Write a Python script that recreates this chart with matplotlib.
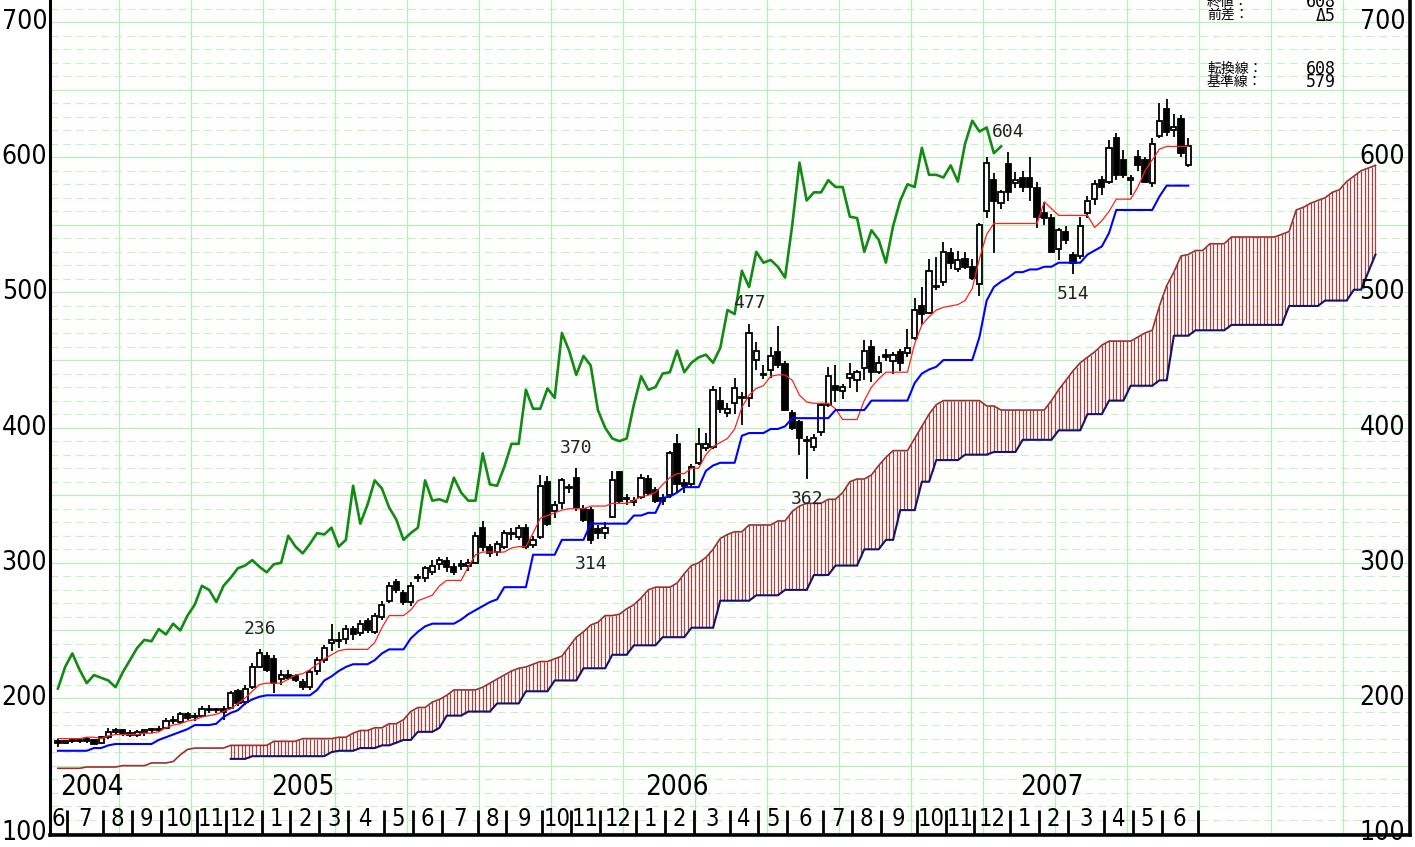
import numpy as np
import pandas as pd
import matplotlib
matplotlib.use("Agg")
import matplotlib.pyplot as plt
from matplotlib import font_manager
from matplotlib.transforms import blended_transform_factory

# 週足 2004-06-25 .. 2007-06-29
first_week = "2004-06-25"

opens = [168, 167, 168, 168, 170, 169, 167, 171, 175, 176,
         174, 173, 175, 176, 177, 178, 183, 182, 188, 186,
         187, 192, 191, 192, 193, 205, 197, 208, 223, 231,
         229, 214, 217, 216, 212, 208, 220, 228, 241, 243,
         244, 251, 248, 257, 249, 260, 272, 286, 278, 271,
         289, 289, 293, 299, 301, 297, 298, 298, 300, 326,
         312, 308, 312, 322, 319, 326, 313, 319, 360, 338,
         344, 356, 363, 340, 339, 325, 322, 334, 367, 348,
         346, 349, 362, 354, 348, 350, 388, 359, 358, 374,
         385, 386, 420, 411, 418, 423, 422, 450, 440, 443,
         456, 447, 411, 404, 391, 386, 397, 417, 431, 427,
         437, 435, 444, 460, 441, 454, 449, 456, 455, 466,
         490, 485, 505, 508, 529, 517, 525, 519, 506, 560,
         583, 566, 595, 581, 585, 585, 577, 559, 555, 532,
         545, 528, 527, 559, 569, 583, 582, 614, 598, 583,
         600, 598, 581, 616, 636, 620, 628, 594]
highs = [170, 169, 170, 170, 171, 170, 172, 178, 178, 177,
         176, 176, 177, 178, 179, 185, 187, 190, 190, 189,
         194, 195, 193, 194, 205, 207, 210, 226, 236, 234,
         232, 221, 221, 218, 214, 221, 230, 239, 255, 249,
         254, 253, 258, 259, 263, 272, 286, 288, 280, 286,
         292, 298, 302, 304, 304, 300, 302, 303, 323, 331,
         314, 316, 324, 326, 328, 329, 320, 365, 364, 346,
         363, 358, 370, 343, 341, 328, 330, 368, 368, 351,
         349, 366, 365, 356, 351, 383, 395, 362, 373, 400,
         396, 431, 430, 418, 437, 426, 477, 463, 446, 460,
         475, 449, 413, 406, 394, 395, 418, 445, 446, 432,
         448, 443, 465, 465, 453, 458, 456, 458, 473, 496,
         504, 525, 526, 537, 533, 531, 530, 525, 551, 600,
         588, 576, 604, 589, 590, 600, 582, 567, 558, 548,
         549, 530, 556, 571, 583, 586, 613, 618, 605, 587,
         605, 600, 614, 640, 643, 632, 631, 614]
lows = [164, 166, 167, 167, 167, 166, 166, 170, 173, 172,
        171, 171, 172, 174, 175, 177, 181, 181, 184, 183,
        186, 189, 189, 184, 192, 194, 195, 207, 222, 219,
        204, 210, 213, 212, 206, 206, 217, 226, 235, 237,
        240, 243, 246, 248, 247, 258, 270, 278, 269, 268,
        286, 286, 291, 295, 293, 291, 295, 294, 299, 309,
        304, 305, 310, 317, 317, 310, 311, 318, 327, 333,
        340, 352, 338, 330, 314, 318, 318, 333, 344, 343,
        342, 347, 350, 344, 343, 348, 352, 352, 355, 372,
        383, 384, 411, 408, 410, 402, 415, 443, 436, 437,
        444, 412, 398, 380, 362, 383, 394, 415, 419, 421,
        429, 426, 435, 434, 440, 449, 440, 442, 452, 465,
        476, 484, 502, 505, 517, 515, 517, 509, 497, 555,
        529, 562, 568, 577, 574, 568, 548, 550, 529, 524,
        536, 514, 525, 555, 565, 572, 580, 583, 585, 572,
        590, 581, 578, 614, 616, 615, 600, 593]
closes = [167, 168, 168, 169, 168, 166, 171, 175, 176, 174,
          173, 175, 176, 177, 176, 183, 184, 188, 185, 187,
          192, 191, 192, 190, 204, 196, 207, 223, 233, 221,
          211, 217, 215, 213, 208, 219, 228, 237, 243, 242,
          251, 247, 255, 250, 261, 269, 283, 280, 271, 283,
          289, 296, 298, 302, 297, 293, 299, 300, 320, 312,
          307, 314, 322, 321, 326, 312, 317, 357, 329, 343,
          361, 355, 341, 332, 317, 322, 326, 361, 346, 347,
          345, 363, 352, 346, 346, 381, 358, 357, 371, 388,
          388, 428, 414, 414, 429, 422, 470, 457, 439, 453,
          446, 413, 400, 392, 390, 392, 417, 438, 428, 430,
          440, 441, 457, 441, 448, 452, 454, 448, 459, 487,
          484, 516, 504, 530, 522, 524, 519, 511, 550, 596,
          568, 574, 574, 583, 578, 578, 556, 555, 530, 546,
          539, 522, 549, 568, 580, 578, 607, 587, 587, 585,
          594, 582, 610, 627, 619, 622, 603, 608]

# 転換線 / 基準線
tenkan = [170, 170, 170, 170, 171, 171, 170, 172, 173, 173,
          173, 173, 174, 174, 175, 178, 180, 181, 183, 184,
          186, 187, 188, 190, 192, 196, 200, 205, 210, 211,
          211, 211, 214, 217, 218, 221, 225, 229, 232, 235,
          236, 236, 236, 236, 241, 252, 261, 261, 261, 265,
          272, 274, 276, 283, 287, 287, 287, 297, 306, 308,
          308, 308, 308, 311, 312, 312, 322, 333, 335, 337,
          339, 340, 340, 340, 342, 342, 342, 344, 344, 344,
          346, 349, 350, 352, 358, 363, 366, 366, 370, 370,
          380, 386, 389, 392, 399, 415, 424, 429, 431, 438,
          439, 439, 435, 424, 419, 418, 418, 418, 414, 406,
          406, 406, 420, 430, 436, 441, 441, 441, 441, 462,
          476, 482, 487, 489, 490, 491, 494, 503, 525, 543,
          551, 551, 551, 551, 551, 551, 551, 567, 562, 557,
          557, 557, 557, 557, 548, 553, 560, 569, 569, 569,
          578, 590, 598, 606, 608, 608, 608, 608]
kijun = [161, 161, 161, 161, 161, 163, 163, 165, 166, 166,
         166, 166, 166, 166, 169, 171, 173, 175, 177, 180,
         180, 180, 181, 186, 189, 191, 196, 199, 201, 202,
         202, 202, 202, 202, 202, 202, 206, 213, 216, 220,
         223, 225, 225, 225, 228, 233, 236, 236, 236, 244,
         249, 253, 255, 255, 255, 255, 258, 262, 265, 268,
         271, 273, 282, 282, 282, 282, 306, 306, 306, 306,
         317, 317, 317, 317, 329, 329, 329, 329, 329, 329,
         335, 335, 337, 337, 348, 349, 352, 356, 356, 356,
         368, 372, 374, 374, 374, 394, 396, 396, 396, 399,
         399, 401, 407, 407, 407, 407, 407, 407, 413, 413,
         413, 413, 413, 420, 420, 420, 420, 420, 420, 433,
         440, 443, 445, 450, 450, 450, 450, 450, 467, 494,
         504, 508, 511, 515, 515, 517, 517, 519, 519, 522,
         522, 522, 522, 528, 531, 534, 544, 561, 561, 561,
         561, 561, 561, 571, 579, 579, 579, 579]

# 先行スパン (already shifted forward, week 0 .. 183)
span_a = [148, 148, 148, 148, 149, 149, 149, 149, 149, 150,
          150, 150, 150, 152, 152, 152, 153, 158, 162, 163,
          163, 163, 163, 163, 165, 165, 165, 165, 165, 165,
          168, 168, 168, 168, 170, 170, 170, 170, 170, 171,
          171, 174, 176, 176, 178, 178, 181, 181, 184, 190,
          193, 193, 197, 199, 202, 206, 206, 206, 206, 208,
          211, 214, 217, 220, 222, 223, 225, 227, 227, 229,
          231, 238, 245, 249, 254, 256, 261, 261, 262, 266,
          269, 274, 280, 282, 282, 282, 285, 292, 298, 300,
          304, 310, 318, 321, 323, 323, 328, 328, 328, 328,
          331, 331, 338, 342, 344, 344, 344, 347, 347, 352,
          360, 362, 362, 365, 372, 378, 383, 383, 383, 392,
          401, 410, 417, 420, 420, 420, 420, 420, 420, 416,
          416, 413, 413, 413, 413, 413, 413, 413, 420, 428,
          435, 442, 448, 452, 456, 461, 464, 464, 464, 464,
          467, 470, 472, 490, 505, 515, 527, 528, 531, 531,
          536, 536, 536, 541, 541, 541, 541, 541, 541, 541,
          543, 545, 561, 563, 566, 568, 570, 574, 576, 582,
          586, 590, 592, 594]
span_b_start = 24
span_b = [155, 155, 155, 157, 157, 157, 157, 157, 157, 157,
          157, 157, 157, 157, 160, 161, 161, 161, 163, 163,
          163, 165, 165, 167, 169, 169, 175, 175, 175, 178,
          187, 187, 187, 190, 190, 190, 190, 196, 196, 196,
          196, 205, 205, 205, 205, 213, 213, 213, 213, 222,
          222, 222, 222, 232, 232, 232, 239, 239, 239, 239,
          245, 245, 245, 245, 252, 252, 252, 252, 272, 272,
          272, 272, 272, 276, 276, 276, 276, 280, 280, 280,
          280, 291, 291, 291, 298, 298, 298, 298, 310, 310,
          310, 317, 317, 339, 339, 339, 360, 360, 376, 376,
          376, 376, 380, 380, 380, 380, 382, 382, 382, 382,
          391, 391, 391, 391, 391, 398, 398, 398, 398, 410,
          410, 410, 420, 420, 420, 431, 431, 431, 431, 435,
          435, 468, 468, 468, 472, 472, 472, 472, 472, 476,
          476, 476, 476, 476, 476, 476, 476, 490, 490, 490,
          490, 490, 494, 494, 494, 494, 502, 502, 515, 528]

# 高値・安値の注記
peak_idx = [28, 72, 74, 96, 104, 132, 141]
peak_is_high = [True, True, False, True, False, True, False]

shift = 26
n = len(closes)
x = np.arange(n)
o, h, l, c = map(np.array, (opens, highs, lows, closes))

# 細めの数字フォント
fl = font_manager.fontManager.ttflist
if any(f.name == "DejaVu Sans" and "condensed" in str(f.stretch) for f in fl):
    NUM = dict(family="DejaVu Sans", fontstretch="condensed")
    tick_fs, month_fs, year_fs = 19, 17, 20
else:
    NUM = dict(family="Liberation Sans")
    tick_fs, month_fs, year_fs = 18, 16, 19
JP = ["Noto Sans CJK JP", "DejaVu Sans"]

W, H = 1415, 847
fig = plt.figure(figsize=(W / 100, H / 100), dpi=100)
ax = fig.add_axes([50 / W, 12 / H, 1360 / W, 835 / H])
ax.set_xlim(-1.1, 187.8)
ax.set_ylim(98.7, 716.3)
ax.set_xticks([])
ax.set_yticks([])
ax.spines["top"].set_visible(False)
ax.spines["left"].set_linewidth(2.2)
ax.spines["right"].set_linewidth(2.6)
ax.spines["bottom"].set_linewidth(2.6)

# grid
for v in range(100, 717, 10):
    if v % 50 == 0:
        ax.axhline(v, color="#b4f0b4", lw=0.9, zorder=0)
    else:
        ax.axhline(v, color="#c2f4c2", lw=0.8, ls=(0, (7, 4.5)), zorder=0)
for g in np.arange(8.5, 188, 10):
    ax.axvline(g, color="#b4f0b4", lw=0.9, zorder=0)

# 雲
xa = np.arange(len(span_a))
xb = np.arange(span_b_start, span_b_start + len(span_b))
hp = np.arange(xb[0], xb[-1] + 0.01, 0.5)
ax.vlines(hp, np.interp(hp, xb, span_b), np.interp(hp, xa, span_a),
          color="#a84040", lw=0.9, zorder=1)
ax.plot(xa, span_a, color="#9a3030", lw=1.2, zorder=2)
ax.plot(xb, span_b, color="#14146e", lw=1.5, zorder=2)

# ローソク足
up = c >= o
ax.vlines(x, l, h, color="black", lw=1.3, zorder=3)
bot = np.minimum(o, c)
ht = np.maximum(np.abs(c - o), 0.8)
ax.bar(x[up], ht[up], bottom=bot[up], width=0.72, facecolor="white",
       edgecolor="black", lw=1.3, zorder=4)
ax.bar(x[~up], ht[~up], bottom=bot[~up], width=0.72, facecolor="black",
       edgecolor="black", lw=1.3, zorder=4)

# 転換線・基準線・遅行スパン
ax.plot(x, tenkan, color="#ff2020", lw=0.9, zorder=5)
ax.plot(x, kijun, color="#0000ff", lw=1.5, zorder=5)
ax.plot(x[:-shift], c[shift:], color="#138a13", lw=1.9, zorder=6)

for i, hi in zip(peak_idx, peak_is_high):
    val = h[i] if hi else l[i]
    ax.text(i, val + (15 if hi else -15), str(val), ha="center", va="center",
            fontsize=13, family="DejaVu Sans Mono", color="#222222", zorder=8)

# 価格目盛
tr = blended_transform_factory(ax.transAxes, ax.transData)
for v in range(100, 701, 100):
    ax.text(-0.002, v, str(v), transform=tr, ha="right", va="center",
            fontsize=tick_fs, clip_on=False, **NUM)
    ax.text(0.9965, v, str(v), transform=tr, ha="right", va="center",
            fontsize=tick_fs, zorder=8, **NUM)

# 月・年の目盛
dates = pd.date_range(first_week, periods=n, freq="W-FRI")
month_first = [i for i in range(1, n) if dates[i].month != dates[i - 1].month] + [n]
seps = np.array(month_first) + 0.3
ax.vlines(seps, 98.7, 117, color="black", lw=2.0, zorder=7)
centers = [0] + list((seps[:-1] + seps[1:]) / 2)
labels = [dates[0].month] + [dates[i].month for i in month_first[:-1]]
for cx, m in zip(centers, labels):
    ax.text(cx, 110.5, str(m), ha="center", va="center", fontsize=month_fs,
            zorder=8, **NUM)
for yr in sorted(set(dates.year)):
    i0 = int(np.argmax(dates.year == yr))
    ax.text(i0 + (4.7 if i0 == 0 else 6), 134.2, str(yr), ha="center",
            va="center", fontsize=year_fs, zorder=8, **NUM)

# 右上の情報
def info(ypix, label, value):
    fig.text(1207 / W, 1 - ypix / H, label, ha="left", va="center",
             fontsize=10, family=JP)
    fig.text(1336 / W, 1 - ypix / H, value, ha="right", va="center",
             fontsize=12, family="DejaVu Sans Mono")

info(2, "終値：", str(closes[-1]))
info(16, "前差：", "Δ" + str(closes[-1] - closes[-2]))
info(69, "転換線：", str(tenkan[-1]))
info(82, "基準線：", str(kijun[-1]))

fig.savefig("out.png", dpi=100)
